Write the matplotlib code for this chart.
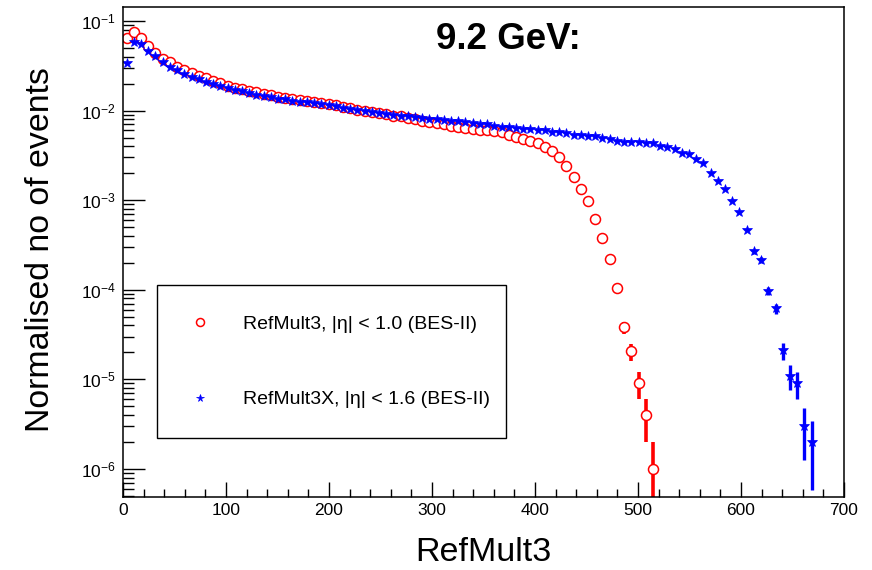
import numpy as np
import matplotlib.pyplot as plt
from matplotlib.ticker import MultipleLocator, LogLocator

plt.rcParams['font.family'] = ['Liberation Sans', 'DejaVu Sans']
plt.rcParams['mathtext.fontset'] = 'custom'
plt.rcParams['mathtext.rm'] = 'Liberation Sans'

# bin width 7, 100 bins from 0 to 700
bin_width = 7.0
n_events = 1.0e6  # normalisation (one count = 1e-6)

# RefMult3, |eta| < 1.0 (normalised counts per bin, starting at bin 0)
refmult3 = [
    0.064, 0.076, 0.064, 0.052, 0.044, 0.038, 0.0345, 0.031, 0.0284, 0.0261,
    0.0243, 0.0229, 0.0214, 0.0202, 0.0189, 0.0180, 0.0174, 0.0166, 0.0159, 0.0153,
    0.0148, 0.0143, 0.0139, 0.0134, 0.0131, 0.0127, 0.0123, 0.0120, 0.0117, 0.0114,
    0.0110, 0.0106, 0.0102, 0.0099, 0.0096, 0.0093, 0.0091, 0.0088, 0.0086, 0.0083,
    0.0080, 0.0077, 0.0075, 0.0072, 0.0070, 0.0068, 0.0066, 0.0064, 0.0063, 0.0061,
    0.0060, 0.0059, 0.0057, 0.0054, 0.0051, 0.0048, 0.0046, 0.0043, 0.0039, 0.0035,
    0.0030, 0.0024, 0.00183, 0.00134, 0.00099, 0.00061, 0.00038, 0.00022, 0.000105, 3.8e-5,
    2.05e-5, 9.1e-6, 4.0e-6, 1.0e-6,
]

# RefMult3X, |eta| < 1.6
refmult3x = [
    0.0343, 0.0587, 0.0553, 0.0467, 0.0407, 0.0352, 0.0309, 0.0284, 0.0256, 0.0239,
    0.0223, 0.0210, 0.0198, 0.0188, 0.0177, 0.0170, 0.0164, 0.0157, 0.0151, 0.0146,
    0.0140, 0.0136, 0.0133, 0.0129, 0.0126, 0.0123, 0.0121, 0.0119, 0.0115, 0.0111,
    0.0108, 0.0105, 0.0102, 0.0099, 0.0097, 0.0094, 0.0092, 0.0090, 0.0088, 0.0086,
    0.0084, 0.0083, 0.0081, 0.0080, 0.0078, 0.0077, 0.0076, 0.0075, 0.0073, 0.0071,
    0.0070, 0.0068, 0.0066, 0.0065, 0.0064, 0.0063, 0.0062, 0.0061, 0.0060, 0.0058,
    0.0057, 0.0056, 0.0053, 0.0053, 0.0052, 0.0052, 0.0049, 0.0048, 0.0046, 0.0044,
    0.0044, 0.0044, 0.0043, 0.0043, 0.0040, 0.0039, 0.0037, 0.0034, 0.0033, 0.0029,
    0.0026, 0.0020, 0.00165, 0.00132, 0.00099, 0.00073, 0.00047, 0.00027, 0.000215, 9.7e-5,
    6.2e-5, 2.1e-5, 1.1e-5, 9.0e-6, 3.0e-6, 2.0e-6,
]

labels = ['RefMult3, |η| < 1.0 (BES-II)', 'RefMult3X, |η| < 1.6 (BES-II)']


def centers(vals):
    return bin_width * (np.arange(len(vals)) + 0.5)


def poisson_err(vals):
    v = np.array(vals)
    err = np.sqrt(v / n_events)
    lo = np.minimum(err, v * 0.999)
    return [lo, err]


fig = plt.figure(figsize=(8.72, 5.70), dpi=100)
ax = fig.add_axes([0.1411, 0.1281, 0.8268, 0.8596])

c1 = ax.errorbar(centers(refmult3), refmult3, yerr=poisson_err(refmult3), fmt='o',
                 color='red', mfc='white', mec='red', ms=7.2, mew=1.1,
                 elinewidth=2.6, capsize=0)
c2 = ax.errorbar(centers(refmult3x), refmult3x, yerr=poisson_err(refmult3x), fmt='*',
                 color='blue', mfc='blue', mec='blue', ms=7, mew=0.5,
                 elinewidth=2.4, capsize=0)

ax.set_yscale('log')
ax.set_xlim(0, 700)
ax.set_ylim(4.87e-7, 0.143)

# ROOT style ticks: inside, only bottom/left
ax.xaxis.set_major_locator(MultipleLocator(100))
ax.xaxis.set_minor_locator(MultipleLocator(20))
ax.yaxis.set_major_locator(LogLocator(base=10))
ax.yaxis.set_minor_locator(LogLocator(base=10, subs=np.arange(2, 10)))
ax.tick_params(axis='x', which='major', direction='in', length=11, width=1, labelsize=12.5, pad=4)
ax.tick_params(axis='x', which='minor', direction='in', length=6, width=1)
ax.tick_params(axis='y', which='major', direction='in', length=16, width=1, labelsize=12.5, pad=5)
ax.tick_params(axis='y', which='minor', direction='in', length=8, width=1)
for s in ax.spines.values():
    s.set_linewidth(1.1)

ax.set_xlabel('RefMult3', fontsize=24.5, labelpad=14)
ax.set_ylabel('Normalised no of events', fontsize=24.4)
ax.yaxis.set_label_coords(-0.0925, 0.504)

fig.text(0.583, 0.93, '9.2 GeV:', fontsize=26.5, fontweight='bold', ha='center', va='center')

# legend box without the error bars
leg = ax.legend(handles=[c1[0], c2[0]], labels=labels,
                loc='upper left', bbox_to_anchor=(0.18, 0.2333, 0.40, 0.2667),
                bbox_transform=fig.transFigure, mode='expand', fontsize=14,
                frameon=True, fancybox=False, edgecolor='black', framealpha=1,
                borderpad=1.55, labelspacing=2.98, handlelength=1.35, handletextpad=1.55,
                borderaxespad=0, numpoints=1, markerscale=0.8)
leg.get_frame().set_linewidth(1.0)

plt.savefig('out.png', dpi=100)
